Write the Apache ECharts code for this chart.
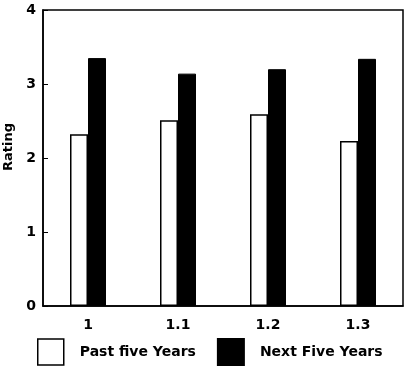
<!DOCTYPE html>
<html><head><meta charset="utf-8">
<script src="https://cdn.jsdelivr.net/npm/echarts@6/dist/echarts.min.js"></script>
<style>html,body{margin:0;padding:0;background:#fff}#c{width:407px;height:371px}</style>
</head><body><div id="c"></div>
<script>
const categories = ['1', '1.1', '1.2', '1.3'];
const pastFive = [2.32, 2.51, 2.59, 2.23];
const nextFive = [3.35, 3.14, 3.20, 3.34];
const yTicks = [0, 1, 2, 3, 4];

const font = 'DejaVu Sans, Liberation Sans, sans-serif';
const chart = echarts.init(document.getElementById('c'), null, {renderer: 'canvas'});
chart.setOption({
  animation: false,
  backgroundColor: '#fff',
  grid: {left: 43, right: 4, top: 10, bottom: 65, show: true, borderColor: '#000', borderWidth: 1.5,
    backgroundColor: 'transparent', containLabel: false, outerBoundsMode: 'none'},
  legend: {
    bottom: 5, left: 37, padding: 0, itemGap: 21, itemWidth: 26, itemHeight: 26,
    textStyle: {fontFamily: font, fontWeight: 'bold', fontSize: 14, color: '#000', padding: [0, 0, 0, 11]},
    data: [
      {name: 'Past five Years', icon: 'rect', itemStyle: {color: '#fff', borderColor: '#000', borderWidth: 1.5}},
      {name: 'Next Five Years', icon: 'rect', itemStyle: {color: '#000'}}
    ]
  },
  xAxis: {
    type: 'category', data: categories,
    axisLine: {lineStyle: {color: '#000', width: 1.5}},
    axisTick: {show: false},
    axisLabel: {color: '#000', fontFamily: font, fontWeight: 'bold', fontSize: 14, margin: 12}
  },
  yAxis: {
    type: 'value', min: 0, max: 4, interval: 1,
    name: 'Rating', nameLocation: 'middle', nameGap: 27,
    nameTextStyle: {color: '#000', fontFamily: font, fontSize: 13, fontWeight: 'bold', padding: [0, 0, 0, 22]},
    axisLine: {show: true, lineStyle: {color: '#000', width: 1.5}},
    axisTick: {show: true, inside: true, length: 5, lineStyle: {color: '#000'}},
    splitLine: {show: false},
    axisLabel: {color: '#000', fontFamily: font, fontWeight: 'bold', fontSize: 14, margin: 7,
      formatter: v => yTicks.includes(v) ? String(v) : ''}
  },
  series: [
    {name: 'Past five Years', type: 'bar', data: pastFive, barWidth: 18, barGap: '0%',
      itemStyle: {color: '#fff', borderColor: '#000', borderWidth: 1.5}},
    {name: 'Next Five Years', type: 'bar', data: nextFive, barWidth: 18, barGap: '0%',
      itemStyle: {color: '#000', borderColor: '#000', borderWidth: 1}}
  ]
});
</script></body></html>
